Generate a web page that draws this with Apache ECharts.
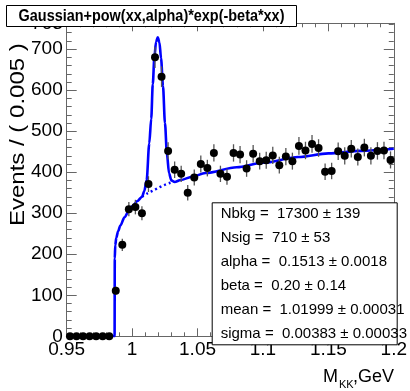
<!DOCTYPE html>
<html>
<head>
<meta charset="utf-8">
<script src="https://cdn.jsdelivr.net/npm/echarts@6/dist/echarts.min.js"></script>
<style>
  html, body { margin: 0; padding: 0; background: #fff; }
  #chart { width: 410px; height: 391px; }
</style>
</head>
<body>
<div id="chart"></div>
<script>
// binning of the data histogram
const binLo = 0.95;
const binWidth = 0.005;
// events per bin
const counts = [0, 0, 0, 0, 0, 0, 0, 111, 223, 310, 315, 300, 371, 680, 633, 452,
  406, 396, 350, 387, 420, 410, 447, 396, 389, 447, 443, 409, 445, 427, 429, 441,
  417, 438, 427, 464, 453, 469, 459, 401, 403, 451, 440, 457, 437, 460, 440, 452,
  453, 430];

// total fit curve (solid)
const fitX = [0.95, 0.9866, 0.98675, 0.9871, 0.9879, 0.9893, 0.9910, 0.9942, 0.9975,
  1.0005, 1.0040, 1.0076, 1.0093, 1.0111, 1.0131, 1.0146, 1.0158, 1.0170, 1.0183,
  1.0196, 1.0209, 1.0221, 1.0236, 1.0251, 1.0266, 1.0282, 1.0300, 1.0325, 1.0371,
  1.0459, 1.0560, 1.0800, 1.1000, 1.1270, 1.1500, 1.1750, 1.2000];
const fitY = [0, 0, 190, 222, 240, 256, 270, 290, 306,
  318, 330, 340, 354, 381, 470, 530, 615, 680, 718,
  729, 716, 678, 610, 520, 445, 398, 380, 376, 381,
  389, 398, 412, 423, 437, 446, 452, 457];

// background component (dotted) under the peak
const bkgX = [1.0076, 1.0120, 1.0160, 1.0200, 1.0240, 1.0280, 1.0325];
const bkgY = [340, 349, 355, 362, 368, 373, 377];

const xTickLabels = ['0.95', '1', '1.05', '1.1', '1.15', '1.2'];
const statLines = [
  'Nbkg =  17300 \u00b1 139',
  'Nsig =  710 \u00b1 53',
  'alpha =  0.1513 \u00b1 0.0018',
  'beta =  0.20 \u00b1 0.14',
  'mean =  1.01999 \u00b1 0.00031',
  'sigma =  0.00383 \u00b1 0.00033'
];

const points = counts.map((c, i) => [binLo + (i + 0.5) * binWidth, c, Math.sqrt(c)]);
const fitData = fitX.map((x, i) => [x, fitY[i]]);
const bkgData = bkgX.map((x, i) => [x, bkgY[i]]);

const axisColor = '#666';
const tickFont = "'Liberation Sans Narrow', 'Liberation Sans', Arial, sans-serif";

const gridL = 66.7, gridR = 13.3, gridT = 23.3, gridB = 54.7;

function xAxisCfg(pos, labels) {
  return {
    type: 'value', position: pos, min: 0.95, max: 1.2, interval: 0.05,
    axisLine: { show: true, onZero: false, lineStyle: { color: axisColor, width: 1 } },
    axisTick: { show: true, inside: true, length: 8, lineStyle: { color: axisColor } },
    minorTick: { show: true, splitNumber: 5, length: 4, lineStyle: { color: axisColor } },
    splitLine: { show: false },
    axisLabel: {
      show: labels, margin: 4, color: '#000', fontSize: 19, fontFamily: tickFont,
      formatter: v => xTickLabels[Math.round((v - 0.95) / 0.05)]
    }
  };
}
function yAxisCfg(pos, labels) {
  return {
    type: 'value', position: pos, min: 0, max: 763, interval: 100,
    axisLine: { show: true, onZero: false, lineStyle: { color: axisColor, width: 1 } },
    axisTick: { show: true, inside: true, length: 10, lineStyle: { color: axisColor } },
    minorTick: { show: true, splitNumber: 5, length: 5, lineStyle: { color: axisColor } },
    splitLine: { show: false },
    axisLabel: { show: labels, margin: 4, color: '#000', fontSize: 19, fontFamily: tickFont }
  };
}

const boxX = 211.7, boxY = 202.3, boxW = 185, boxH = 142;

const graphics = [
  // stats box
  {
    type: 'rect', z: 100,
    shape: { x: boxX + 0.5, y: boxY + 0.5, width: boxW, height: boxH },
    style: { fill: '#fff', stroke: '#000', lineWidth: 1 }
  },
  ...statLines.map((t, i) => ({
    type: 'text', z: 101, x: 220.7, y: 214 + i * 24,
    style: {
      text: t, fill: '#000', font: "15px 'Liberation Sans', Arial, sans-serif",
      textAlign: 'left', textVerticalAlign: 'middle'
    }
  })),
  // y axis title
  {
    type: 'text', z: 90, x: 18, y: 226, rotation: Math.PI / 2, scaleY: 0.86,
    style: {
      text: 'Events / ( 0.005 )', fill: '#000',
      font: "24px 'Liberation Sans', Arial, sans-serif",
      textAlign: 'left', textVerticalAlign: 'middle'
    }
  },
  // title pave
  {
    type: 'rect', z: 110,
    shape: { x: 6.5, y: 5.5, width: 290, height: 21 },
    style: { fill: '#fff', stroke: '#000', lineWidth: 1 }
  },
  {
    type: 'text', z: 111, x: 151.5, y: 16, scaleX: 0.86,
    style: {
      text: 'Gaussian+pow(xx,alpha)*exp(-beta*xx)', fill: '#000',
      font: "bold 16.8px 'Liberation Sans', Arial, sans-serif",
      textAlign: 'center', textVerticalAlign: 'middle'
    }
  },
  // x axis title M_KK,GeV
  {
    type: 'text', z: 90, x: 323, y: 386,
    style: { text: 'M', fill: '#000', font: "18px 'Liberation Sans', Arial, sans-serif",
      textAlign: 'left', textVerticalAlign: 'bottom' }
  },
  {
    type: 'text', z: 90, x: 339, y: 390,
    style: { text: 'KK', fill: '#000', font: "11px 'Liberation Sans', Arial, sans-serif",
      textAlign: 'left', textVerticalAlign: 'bottom' }
  },
  {
    type: 'text', z: 90, x: 353, y: 386,
    style: { text: ',GeV', fill: '#000', font: "18px 'Liberation Sans', Arial, sans-serif",
      textAlign: 'left', textVerticalAlign: 'bottom' }
  }
];

const chart = echarts.init(document.getElementById('chart'), null, { renderer: 'canvas' });
chart.setOption({
  animation: false,
  backgroundColor: '#fff',
  grid: { left: gridL, right: gridR, top: gridT, bottom: gridB, containLabel: false },
  xAxis: [xAxisCfg('bottom', true), xAxisCfg('top', false)],
  yAxis: [yAxisCfg('left', true), yAxisCfg('right', false)],
  graphic: graphics,
  series: [
    {
      name: 'bkg', type: 'line', data: bkgData, showSymbol: false, smooth: 0.3, z: 3,
      lineStyle: { color: '#0000ff', width: 2.5, type: [2, 3] }
    },
    {
      name: 'fit', type: 'line', data: fitData, showSymbol: false, smooth: 0.3,
      smoothMonotone: 'x', z: 4,
      lineStyle: { color: '#0000ff', width: 2.6 }
    },
    {
      name: 'errors', type: 'custom', z: 5,
      renderItem: (params, api) => {
        const x = api.value(0), y = api.value(1), e = api.value(2);
        const p1 = api.coord([x, y - e]);
        const p2 = api.coord([x, y + e]);
        return {
          type: 'line',
          shape: { x1: p1[0], y1: p1[1], x2: p2[0], y2: p2[1] },
          style: { stroke: '#555', lineWidth: 1.3 }
        };
      },
      data: points
    },
    {
      name: 'data', type: 'scatter', data: points.map(p => [p[0], p[1]]),
      symbol: 'circle', symbolSize: 8, z: 6,
      itemStyle: { color: '#000', opacity: 1 }
    }
  ]
});
</script>
</body>
</html>
